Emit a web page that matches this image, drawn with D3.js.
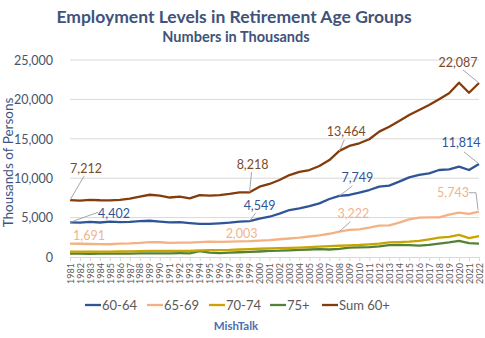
<!DOCTYPE html>
<html>
<head>
<meta charset="utf-8">
<script src="https://cdn.jsdelivr.net/npm/d3@7/dist/d3.min.js"></script>
<style>
  html, body { margin: 0; padding: 0; background: #fff; }
  svg { display: block; font-family: Lato, "Open Sans", sans-serif; }
</style>
</head>
<body>
<svg id="chart" width="485" height="338"></svg>
<script>
const years = d3.range(1981, 2023);
const s6064 = [4402,4350,4450,4380,4480,4420,4450,4550,4600,4500,4400,4420,4300,4200,4200,4280,4350,4500,4549,
  4870,5110,5500,5960,6180,6470,6810,7360,7749,7870,8160,8500,8930,9050,9560,10110,10410,10620,11040,11130,11460,11040,11814];
const s6569 = [1691,1680,1650,1640,1620,1700,1730,1800,1900,1870,1800,1820,1830,1900,1950,1930,1960,1980,2003,
  2080,2150,2250,2350,2450,2600,2750,2950,3222,3430,3510,3720,3970,4020,4360,4780,4990,5030,5030,5370,5620,5460,5743];
const s7074 = [690,680,670,680,690,700,720,740,770,780,760,770,760,850,880,880,900,950,1000,
  1050,1100,1120,1150,1200,1250,1320,1380,1430,1480,1520,1600,1700,1850,1900,1950,2050,2250,2450,2550,2800,2400,2650];
const s75 = [430,420,410,420,420,430,440,450,460,470,470,480,470,750,550,500,560,600,640,
  700,780,800,850,900,950,1000,950,1020,1200,1220,1250,1350,1500,1520,1500,1450,1550,1700,1850,2050,1750,1700];
const sum60 = [7212,7150,7250,7200,7180,7250,7400,7650,7900,7800,7550,7650,7450,7850,7800,7850,8000,8200,8218,
  8920,9270,9770,10400,10800,11040,11550,12300,13464,14090,14430,14940,15910,16540,17260,18020,18650,19290,20010,20770,22120,20850,22087];
const seriesNames = ["60-64", "65-69", "70-74", "75+", "Sum 60+"];
const yTicks = [0, 5000, 10000, 15000, 20000, 25000];
const labelYears = [1981, 1999, 2008, 2022];

const seriesValues = [s6064, s6569, s7074, s75, sum60];
const colors = ["#2F5597", "#F4B183", "#C9A400", "#548235", "#843C0C"];
const labelColors = ["#2F5597", "#F0B48C", "#C9A400", "#548235", "#7A4A28"];

// label placement (pixel offsets from the data point) — styling only
const labelPlacement = {
  0: { 1981: {dx:44, dy:-9, lead:[[0,0],[28,-10]]},
       1999: {dx:10, dy:-16, lead:[[0,0],[6,-8]]},
       2008: {dx:18, dy:-18, lead:[[0,0],[13,-10]]},
       2022: {dx:-18, dy:-21, lead:[[0,0],[-15,-12]]} },
  1: { 1981: {dx:19, dy:-8, lead:null},
       1999: {dx:-8, dy:-8, lead:null},
       2008: {dx:14, dy:-18, lead:[[0,0],[11,-10]]},
       2022: {dx:-26, dy:-19, lead:[[-1,-2],[-3,-19],[-10,-19]]} },
  4: { 1981: {dx:16, dy:-32, lead:[[0,0],[14,-24]]},
       1999: {dx:3, dy:-28, lead:[[0,0],[2,-20]]},
       2008: {dx:7, dy:-19, lead:[[0,0],[5,-11]]},
       2022: {dx:-21, dy:-20, lead:[[0,0],[-16,-13]]} }
};

const svg = d3.select("#chart");
const pLeft = 70, pRight = 479, pTop = 60, pBottom = 257;

const x = d3.scalePoint().domain(years).range([pLeft, pRight]);
const y = d3.scaleLinear().domain([0, 25000]).range([pBottom, pTop]);

// gridlines
svg.append("g").selectAll("line").data(yTicks.filter(d => d > 0)).join("line")
  .attr("x1", pLeft).attr("x2", pRight)
  .attr("y1", d => y(d)).attr("y2", d => y(d))
  .attr("stroke", "#D9D9D9").attr("stroke-width", 1);

// y axis labels
const yAxis = svg.append("g").attr("transform", `translate(${pLeft - 14},0)`)
  .call(d3.axisLeft(y).tickValues(yTicks).tickFormat(d3.format(",")).tickSize(0));
yAxis.select(".domain").remove();
yAxis.selectAll("text").attr("fill", "#44546A").attr("font-size", 12.5)
  .attr("font-family", "Lato, sans-serif").attr("dy", "0.35em");

// x axis
const xAxis = svg.append("g").attr("transform", `translate(0,${pBottom})`)
  .call(d3.axisBottom(x).tickSize(4).tickSizeOuter(0));
xAxis.select(".domain").attr("stroke", "#D9D9D9");
xAxis.selectAll(".tick line").attr("stroke", "#D9D9D9");
xAxis.selectAll("text")
  .attr("transform", "rotate(-90)")
  .attr("text-anchor", "end")
  .attr("x", -6).attr("y", 0).attr("dy", "0.35em")
  .attr("fill", "#595959").attr("font-size", 9)
  .attr("font-family", "Lato, sans-serif");

// lines (draw so Sum on top)
const line = d3.line().x((d, i) => x(years[i])).y(d => y(d));
const drawOrder = [3, 2, 1, 0, 4];
svg.append("g").selectAll("path").data(drawOrder).join("path")
  .attr("d", k => line(seriesValues[k]))
  .attr("fill", "none")
  .attr("stroke", k => colors[k])
  .attr("stroke-width", 2.3)
  .attr("stroke-linejoin", "round");

// data labels
const lg = svg.append("g");
Object.keys(labelPlacement).forEach(key => {
  const k = +key;
  labelYears.forEach(yr => {
    const p = labelPlacement[k][yr];
    const i = years.indexOf(yr);
    const px = x(yr), py = y(seriesValues[k][i]);
    if (p.lead) {
      lg.append("polyline")
        .attr("points", p.lead.map(o => [px + o[0], py + o[1]].join(",")).join(" "))
        .attr("fill", "none").attr("stroke", "#A6A6A6").attr("stroke-width", 1);
    }
    lg.append("text")
      .attr("x", px + p.dx).attr("y", py + p.dy)
      .attr("text-anchor", "middle").attr("dy", "0.35em")
      .attr("font-size", 12.5).attr("fill", labelColors[k])
      .text(d3.format(",")(seriesValues[k][i]));
  });
});

// title
svg.append("text").attr("x", 234).attr("y", 23).attr("text-anchor", "middle")
  .attr("font-size", 17.5).attr("font-weight", "bold").attr("fill", "#40537A")
  .text("Employment Levels in Retirement Age Groups");
svg.append("text").attr("x", 236).attr("y", 42).attr("text-anchor", "middle")
  .attr("font-size", 14.5).attr("font-weight", "bold").attr("fill", "#40537A")
  .text("Numbers in Thousands");

// y axis title
svg.append("text")
  .attr("transform", `translate(13,${(pTop + pBottom) / 2 + 4}) rotate(-90)`)
  .attr("text-anchor", "middle").attr("font-size", 13.5).attr("fill", "#3B5486")
  .text("Thousands of Persons");

// legend
const legendX = [85, 147, 209, 270, 322];
const leg = svg.append("g");
seriesNames.forEach((name, k) => {
  leg.append("line").attr("x1", legendX[k]).attr("x2", legendX[k] + 16)
    .attr("y1", 305).attr("y2", 305)
    .attr("stroke", colors[k]).attr("stroke-width", 2.3);
  leg.append("text").attr("x", legendX[k] + 17).attr("y", 305).attr("dy", "0.35em")
    .attr("font-size", 13).attr("fill", "#595959").text(name);
});

// source
svg.append("text").attr("x", 236).attr("y", 326).attr("dy", "0.35em")
  .attr("text-anchor", "middle").attr("font-size", 11.5).attr("font-weight", "bold")
  .attr("fill", "#4A6FAE").text("MishTalk");
</script>
</body>
</html>
